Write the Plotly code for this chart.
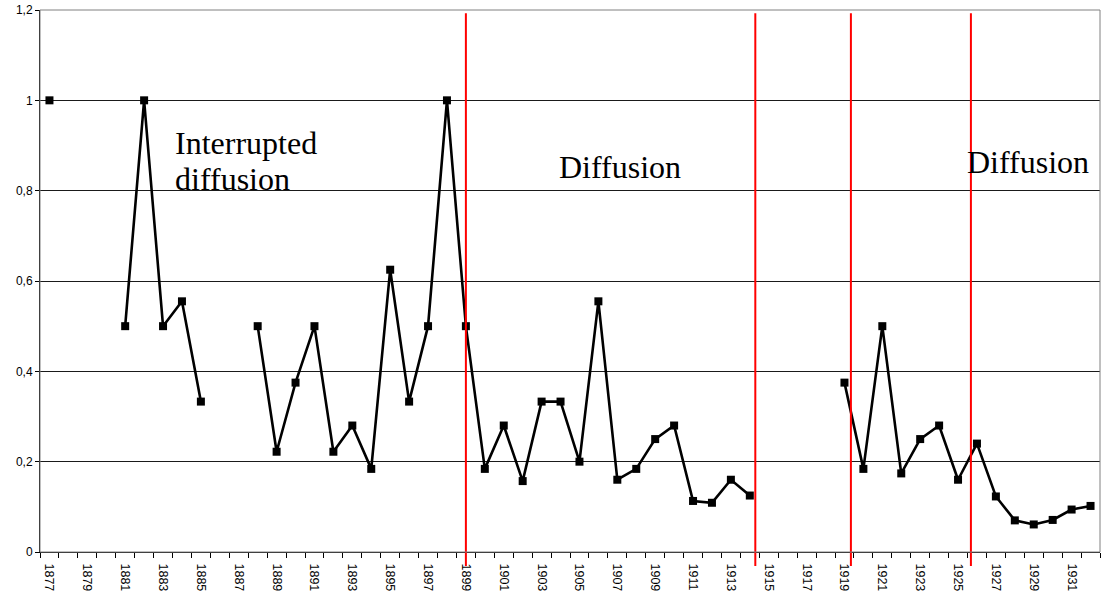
import plotly.graph_objects as go

# ---- data ----
years = list(range(1877, 1933))
values = [1.0, None, None, None, 0.5, 1.0, 0.5, 0.555, 0.333, None,
          None, 0.5, 0.222, 0.375, 0.5, 0.222, 0.28, 0.184, 0.625, 0.333,
          0.5, 1.0, 0.5, 0.184, 0.28, 0.157, 0.333, 0.333, 0.2, 0.555,
          0.16, 0.184, 0.25, 0.28, 0.113, 0.109, 0.16, 0.125, None, None,
          None, None, 0.375, 0.184, 0.5, 0.174, 0.25, 0.28, 0.16, 0.24,
          0.123, 0.07, 0.061, 0.071, 0.094, 0.102]
label_years = list(range(1877, 1932, 2))
phase_lines = [1899.0, 1914.29, 1919.34, 1925.68]
y_ticks = [0, 0.2, 0.4, 0.6, 0.8, 1.0, 1.2]

fig = go.Figure()
fig.add_trace(go.Scatter(
    x=years, y=values, mode="lines+markers", connectgaps=False,
    line=dict(color="black", width=2.6),
    marker=dict(symbol="square", size=8, color="black"),
    showlegend=False, hoverinfo="skip"))

shapes = []
for px in phase_lines:
    shapes.append(dict(type="line", xref="x", yref="paper", x0=px, x1=px,
                       y0=-0.026, y1=0.994, line=dict(color="#ff0000", width=2),
                       layer="above"))
shapes.append(dict(type="rect", xref="paper", yref="paper", x0=0, x1=1, y0=0, y1=1,
                   line=dict(color="#808080", width=1), fillcolor="rgba(0,0,0,0)",
                   layer="above"))

serif = dict(family="Liberation Serif, Times New Roman, serif", size=32, color="black")
annotations = [
    dict(x=1883.55, y=0.9055, text="Interrupted"),
    dict(x=1883.55, y=0.8258, text="diffusion"),
    dict(x=1903.80, y=0.853, text="Diffusion"),
    dict(x=1925.38, y=0.8634, text="Diffusion"),
]
for a in annotations:
    a.update(xref="x", yref="y", xanchor="left", yanchor="middle",
             showarrow=False, font=serif)

fig.update_layout(
    width=1102, height=594,
    margin=dict(l=40, r=2, t=10, b=42, autoexpand=False),
    paper_bgcolor="white", plot_bgcolor="white",
    separators=", ",
    shapes=shapes, annotations=annotations,
    font=dict(family="Liberation Sans, Arial, sans-serif", color="black"),
)
fig.update_xaxes(
    automargin=False,
    range=[1876.5, 1932.5], tickvals=label_years,
    ticktext=[str(y) for y in label_years], tickangle=90,
    ticks="outside", ticklen=8, tickcolor="rgba(0,0,0,0)",
    tickfont=dict(size=12.5, family="Liberation Sans, Arial, sans-serif", color="black"),
    showgrid=False, zeroline=False, showline=True, linecolor="black", linewidth=1,
    minor=dict(tick0=1876.5, dtick=1, ticks="outside", ticklen=5,
               tickcolor="black", showgrid=False),
)
fig.update_yaxes(
    automargin=False,
    range=[0, 1.2], tickvals=y_ticks, ticks="outside", ticklen=4,
    tickcolor="black", tickfont=dict(size=12, color="black"),
    showgrid=True, gridcolor="#1a1a1a", gridwidth=1,
    zeroline=False, showline=True, linecolor="black", linewidth=1,
)

fig.write_html("out.html", config={"displayModeBar": False},
               post_script="document.body.style.margin='0';document.body.style.padding='0';")
